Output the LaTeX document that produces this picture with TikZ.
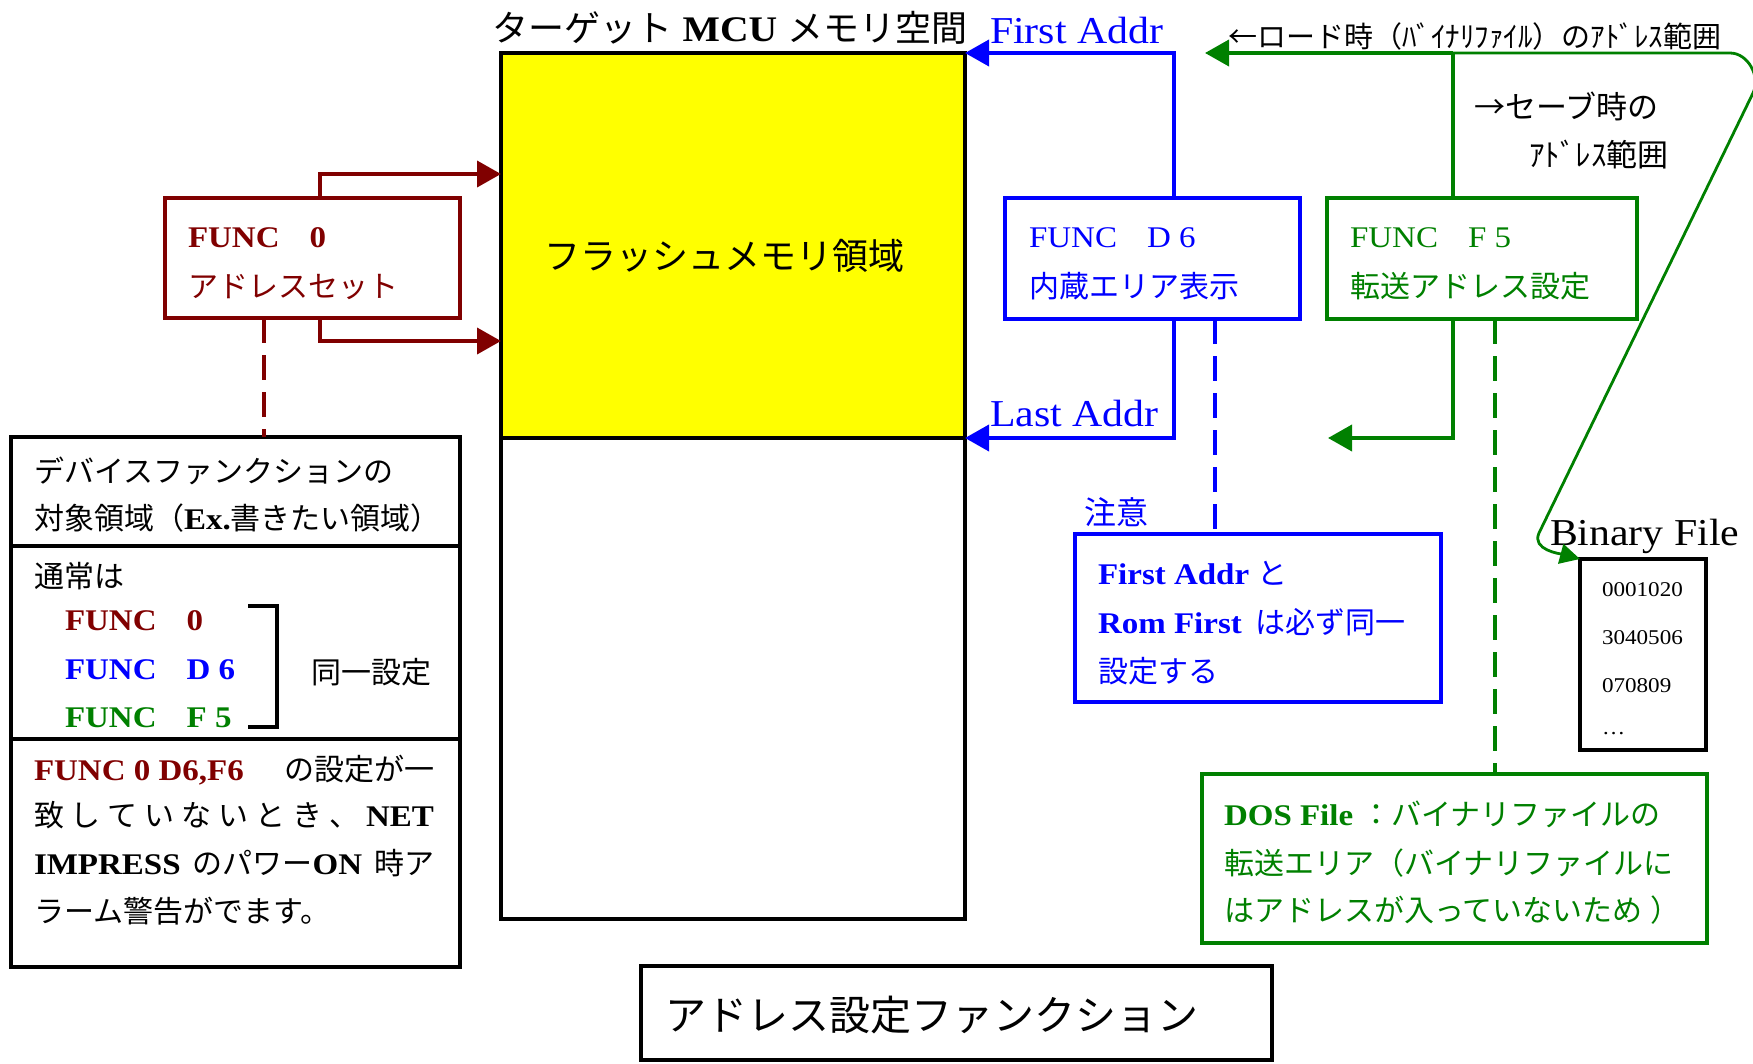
\documentclass[tikz,border=0pt]{standalone}
\usepackage{fontspec}
\setmainfont{Liberation Serif}[FakeStretch=1.1]
\newfontfamily\jpfont{Noto Sans CJK JP}
\usetikzlibrary{arrows.meta}
\definecolor{dkred}{RGB}{128,0,0}
\definecolor{dgreen}{RGB}{0,128,0}
\definecolor{pblue}{RGB}{0,0,255}
\definecolor{yel}{RGB}{255,255,0}

\XeTeXinterchartokenstate=1
\newXeTeXintercharclass\JPclass
\newcount\jpc
\def\setjprange#1#2{\jpc=#1\relax\loop\XeTeXcharclass\jpc=\JPclass\relax\ifnum\jpc<#2\advance\jpc by 1\repeat}
\setjprange{"2190}{"2193}
\setjprange{"3000}{"30FF}
\setjprange{"4E00}{"9FFF}
\setjprange{"FF00}{"FFEF}
\XeTeXinterchartoks 0 \JPclass = {\begingroup\jpfont}
\XeTeXinterchartoks 4095 \JPclass = {\begingroup\jpfont}
\XeTeXinterchartoks \JPclass 0 = {\endgroup}
\XeTeXinterchartoks \JPclass 4095 = {\endgroup}

\tikzset{
  box/.style={draw, line width=3.8pt, inner sep=0pt, outer sep=0pt},
  arr/.style={line width=3.8pt, -{Triangle[length=24pt,width=26pt]}},
  ln/.style={line width=3.8pt},
  dsh/.style={line width=3.8pt, dash pattern=on 25pt off 12pt},
  tx/.style={inner sep=0pt, outer sep=0pt, anchor=base west, font=\fontsize{30}{36}\selectfont},
}

\begin{document}
\begin{tikzpicture}[x=1pt,y=-1pt]
\useasboundingbox (0,0) rectangle (1753,1063);

% memory
\node[box, line width=3.5pt, fill=yel, minimum width=464pt, minimum height=385pt] (mem) at (733,245.5) {};
\node[box, line width=3.5pt, minimum width=464pt, minimum height=481pt] (mem2) at (733,678.5) {};
\node[tx, anchor=base, font=\fontsize{36}{40}\selectfont] (ttl) at (730,41) {ターゲット \textbf{MCU} メモリ空間};
\node[tx, anchor=base, font=\fontsize{36}{40}\selectfont] (flash) at (724,269) {フラッシュメモリ領域};

% FUNC 0
\node[box, draw=dkred, minimum width=295pt, minimum height=120pt] (f0) at (312.5,258) {};
\node[tx, text=dkred] (f0a) at (188,247) {\textbf{FUNC}　\textbf{0}};
\node[tx, text=dkred] (f0b) at (188,297) {アドレスセット};
\draw[arr, dkred] ([xshift=7.5pt]f0.north) |- (mem.west |- 0,174);
\draw[arr, dkred] ([xshift=7.5pt]f0.south) |- (mem.west |- 0,341);

% left box
\node[box, line width=3.5pt, minimum width=449pt, minimum height=109pt] (lb1) at (235.5,491.5) {};
\node[box, line width=3.5pt, minimum width=449pt, minimum height=193pt] (lb2) at (235.5,642.5) {};
\node[box, line width=3.5pt, minimum width=449pt, minimum height=228pt] (lb3) at (235.5,853) {};
\draw[dsh, dkred] ([xshift=-48.5pt]f0.south) -- ([xshift=-48.5pt]f0.south |- lb1.north);

\node[tx] (l1a) at (34,482) {デバイスファンクションの};
\node[tx] (l1b) at (34,529) {対象領域（\textbf{Ex.}書きたい領域）};
\node[tx] (l2a) at (34,587) {通常は};
\node[tx, text=dkred] (l2b) at (65,630) {\textbf{FUNC}　\textbf{0}};
\node[tx, text=pblue] (l2c) at (65,679) {\textbf{FUNC}　\textbf{D 6}};
\node[tx, text=dgreen] (l2d) at (65,727) {\textbf{FUNC}　\textbf{F 5}};
\coordinate (br1) at (248,606);
\coordinate (br2) at (248,727);
\draw[ln, line width=3.5pt] (br1) -- ++(29,0) |- (br2);
\node[tx] (same) at (311,683) {同一設定};
\node[tx] (l3a) at (34,780) {\makebox[400pt][l]{\textcolor{dkred}{\textbf{FUNC 0 D6,F6}}\hfill の設定が一}};
\node[tx] (l3b) at (34,826) {\makebox[400pt][s]{致 し て い な い と き 、 \textbf{NET}}};
\node[tx] (l3c) at (34,874) {\makebox[400pt][s]{\textbf{IMPRESS} のパワー\textbf{ON} 時ア}};
\node[tx] (l3d) at (34,922) {ラーム警告がでます。};

% FUNC D6
\node[box, draw=pblue, minimum width=295pt, minimum height=121pt] (d6) at (1152.5,258.5) {};
\node[tx, text=pblue] (d6a) at (1029,247) {FUNC　D 6};
\node[tx, text=pblue] (d6b) at (1029,297) {内蔵エリア表示};
\draw[arr, pblue] ([xshift=21.5pt]d6.north) |- (mem.north east);
\draw[arr, pblue] ([xshift=21.5pt]d6.south) |- (mem.south east);
\node[tx, text=pblue, font=\fontsize{38}{40}\selectfont] (fa) at (990,43) {First Addr};
\node[tx, text=pblue, font=\fontsize{38}{40}\selectfont] (la) at (990,426) {Last Addr};

% note
\node[box, draw=pblue, minimum width=366pt, minimum height=168pt] (note) at (1258,618) {};
\draw[dsh, pblue] ([xshift=62.5pt]d6.south) -- ([xshift=62.5pt]d6.south |- note.north);
\node[tx, text=pblue, font=\fontsize{32}{36}\selectfont] (att) at (1084,524) {注意};
\node[tx, text=pblue] (n1) at (1098,584) {\textbf{First Addr} と};
\node[tx, text=pblue] (n2) at (1098,633) {\textbf{Rom First}\hspace{14pt}は必ず同一};
\node[tx, text=pblue] (n3) at (1098,682) {設定する};

% FUNC F5
\node[box, draw=dgreen, minimum width=310pt, minimum height=121pt] (f5) at (1482,258.5) {};
\node[tx, text=dgreen] (f5a) at (1350,247) {FUNC　F 5};
\node[tx, text=dgreen] (f5b) at (1350,297) {転送アドレス設定};
\coordinate (j) at (1453,53);
\coordinate (lt) at (1205,53);
\coordinate (gt) at (1328,438);
\draw[ln, dgreen] ([xshift=-29pt]f5.north) -- (j);
\draw[arr, dgreen] (j) -- (lt);
\draw[arr, dgreen] ([xshift=-29pt]f5.south) |- (gt);
\node[tx, font=\fontsize{29}{32}\selectfont] (load) at (1228,47) {←ロード時（ﾊﾞｲﾅﾘﾌｧｲﾙ）のｱﾄﾞﾚｽ範囲};
\node[tx, font=\fontsize{31}{34}\selectfont] (save1) at (1474,118) {→セーブ時の};
\node[tx, font=\fontsize{31}{34}\selectfont] (save2) at (1529,166) {ｱﾄﾞﾚｽ範囲};

% DOS file
\node[box, draw=dgreen, minimum width=505pt, minimum height=169pt] (dos) at (1454.5,858.5) {};
\draw[dsh, dgreen] ([xshift=13pt]f5.south) -- ([xshift=13pt]f5.south |- dos.north);
\node[tx, text=dgreen] (ds1) at (1224,825) {\textbf{DOS File} ：バイナリファイルの};
\node[tx, text=dgreen] (ds2) at (1224,874) {転送エリア（バイナリファイルに};
\node[tx, text=dgreen] (ds3) at (1224,921) {はアドレスが入っていないため\hspace{8pt}）};

% binary file
\node[box, minimum width=126pt, minimum height=191pt] (bin) at (1643,654.5) {};
\node[tx, font=\fontsize{38}{42}\selectfont] (binl) at (1550,545) {Binary File};
\node[tx, font=\fontsize{21}{24}\selectfont] (b1) at (1602,596) {0001020};
\node[tx, font=\fontsize{21}{24}\selectfont] (b2) at (1602,644) {3040506};
\node[tx, font=\fontsize{21}{24}\selectfont] (b3) at (1602,692) {070809};
\node[tx, font=\fontsize{21}{24}\selectfont] (b4) at (1602,734) {…};
\draw[dgreen, line width=2.8pt, -{Triangle[length=20pt,width=20pt]}] (j) -- (1730,53) to[out=0,in=64] (1753,93) -- (1539,533) to[out=-115,in=165] (bin.north west);

% bottom title
\node[box, line width=3.5pt, minimum width=631pt, minimum height=94pt] (tbox) at (956.5,1013) {};
\node[tx, font=\fontsize{41}{44}\selectfont] (ttext) at (665,1030) {アドレス設定ファンクション};
\end{tikzpicture}
\end{document}
